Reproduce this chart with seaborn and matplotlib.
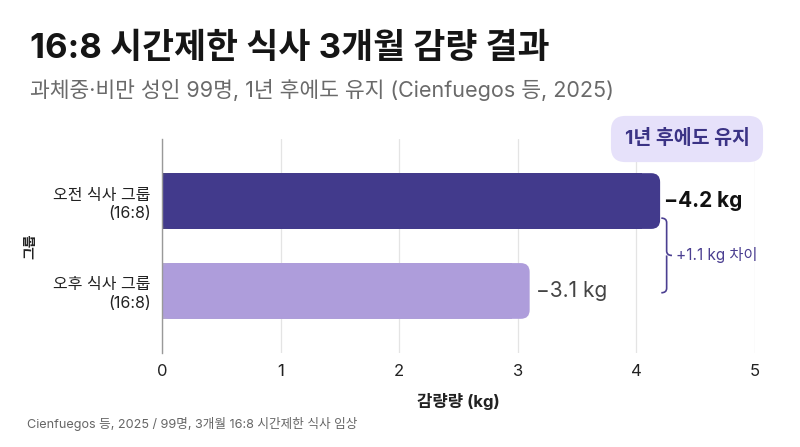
import matplotlib
matplotlib.use("Agg")
import matplotlib.pyplot as plt
import seaborn as sns
import pandas as pd
from matplotlib.patches import FancyBboxPatch
from matplotlib.path import Path
from matplotlib.patches import PathPatch

# ---- data ----
groups = ["오전 식사 그룹\n(16:8)", "오후 식사 그룹\n(16:8)"]
loss_kg = [4.2, 3.1]
value_labels = ["−4.2 kg", "−3.1 kg"]
bar_colors = ["#423a8c", "#ae9ddb"]
x_ticks = [0, 1, 2, 3, 4, 5]
diff_label = "+1.1 kg 차이"
badge_text = "1년 후에도 유지"

df = pd.DataFrame({"group": groups, "loss": loss_kg})

sns.set_theme(style="white")
plt.rcParams["font.family"] = ["Inter", "Noto Sans CJK KR", "DejaVu Sans"]
plt.rcParams["axes.unicode_minus"] = False

fig = plt.figure(figsize=(8, 4.47), dpi=100)
fig.patch.set_facecolor("white")
ax = fig.add_axes([162 / 800, 94 / 447, 593 / 800, 214 / 447])

sns.barplot(data=df, x="loss", y="group", hue="group", palette=bar_colors,
            width=0.62, legend=False, ax=ax, zorder=3)

ax.set_xlim(0, 5)
ax.set_ylim(1.69, -0.69)
ax.set_xticks(x_ticks)
ax.set_xticklabels([str(t) for t in x_ticks], fontsize=12, color="#222222")
ax.tick_params(axis="both", length=0, pad=8)
for lab in ax.get_yticklabels():
    lab.set_fontsize(11.5)
    lab.set_color("#222222")
    lab.set_horizontalalignment("right")
    lab.set_multialignment("right")
    lab.set_linespacing(1.3)

ax.grid(axis="x", color="#e4e4e4", linewidth=0.9, zorder=0)
for s in ["top", "right", "bottom"]:
    ax.spines[s].set_visible(False)
ax.spines["left"].set_color("#999999")
ax.spines["left"].set_linewidth(1.0)
ax.spines["left"].set_zorder(5)

ax.set_xlabel("감량량 (kg)", fontsize=12, fontweight="bold", color="#222222", labelpad=10)
ax.set_ylabel("그룹", fontsize=10, fontweight="bold", color="#222222")
ax.yaxis.set_label_coords(-0.21, 0.5)

# rounded right ends on the bars
aspect = (1 / 90) / (1 / 118.6)
for p, col in zip(ax.patches, bar_colors):
    x0, y0, w, h = p.get_x(), p.get_y(), p.get_width(), p.get_height()
    p.set_width(w - 0.15)
    p.set_edgecolor("none")
    rb = FancyBboxPatch((x0, y0), w, h, boxstyle="round,pad=0,rounding_size=0.075",
                        mutation_aspect=aspect, facecolor=col, edgecolor="none", zorder=3)
    ax.add_patch(rb)

# value labels
for i, (v, t) in enumerate(zip(loss_kg, value_labels)):
    if i == 0:
        ax.text(v + 0.03, i, t, va="center", ha="left", fontsize=15,
                fontweight="bold", color="#111111", zorder=6)
    else:
        ax.text(v + 0.05, i, t, va="center", ha="left", fontsize=15,
                color="#444444", zorder=6)

# curly brace between the bars
bx = 4.21
ty, by = 0.19, 1.02
my = (ty + by) / 2
dx = 0.045
r = 0.05
verts = [
    (bx, ty), (bx + dx, ty), (bx + dx, ty + r),
    (bx + dx, my - r),
    (bx + dx, my), (bx + 2 * dx, my),
    (bx + dx, my), (bx + dx, my + r),
    (bx + dx, by - r),
    (bx + dx, by), (bx, by),
]
codes = [Path.MOVETO, Path.CURVE3, Path.CURVE3,
         Path.LINETO,
         Path.CURVE3, Path.CURVE3,
         Path.MOVETO, Path.CURVE3,
         Path.LINETO,
         Path.CURVE3, Path.CURVE3]
ax.add_patch(PathPatch(Path(verts, codes), facecolor="none", edgecolor="#4b3f91",
                       linewidth=1.2, clip_on=False, zorder=6))
ax.text(bx + 2 * dx + 0.03, my, diff_label, va="center", ha="left", fontsize=11,
        color="#4b3f91", clip_on=False, zorder=6)

# badge
fig.text(687 / 800, 1 - 139 / 447, badge_text, ha="center", va="center", fontsize=14,
         fontweight="bold", color="#3b3385",
         bbox=dict(boxstyle="round,pad=0.7,rounding_size=0.75", facecolor="#e6e1fa",
                   edgecolor="none"))

# titles and footer
fig.text(30 / 800, 1 - 49 / 447, "16:8 시간제한 식사 3개월 감량 결과", ha="left", va="center",
         fontsize=25, fontweight="bold", color="#151515")
fig.text(30 / 800, 1 - 90 / 447, "과체중·비만 성인 99명, 1년 후에도 유지 (Cienfuegos 등, 2025)",
         ha="left", va="center", fontsize=15.5, color="#6a6a6a")
fig.text(27 / 800, 1 - 424 / 447, "Cienfuegos 등, 2025 / 99명, 3개월 16:8 시간제한 식사 임상",
         ha="left", va="center", fontsize=9.1, color="#666666")

fig.savefig("out.png", dpi=100, facecolor="white")
